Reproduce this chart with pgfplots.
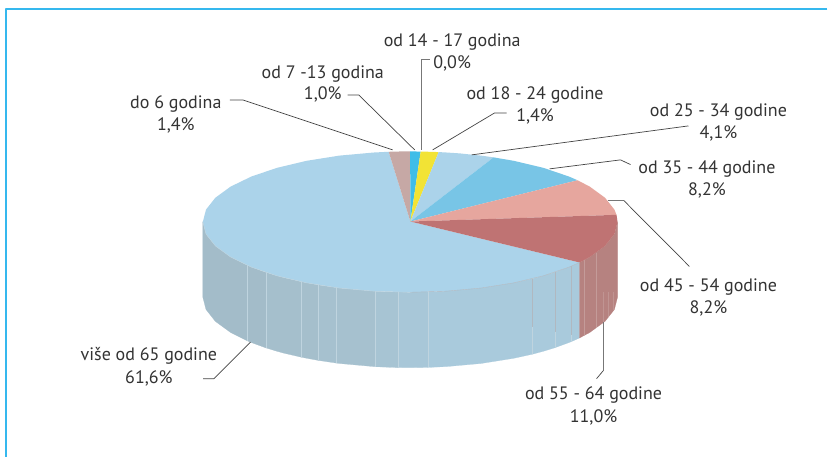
\documentclass[border=0pt]{standalone}
\usepackage{fontspec}
\setmainfont{PT Sans}
\usepackage{pgfplots}
\pgfplotsset{compat=1.18}
\definecolor{pl}{HTML}{ABD3EA}
\definecolor{ro}{HTML}{C6A8A5}
\definecolor{bl}{HTML}{3FBDE8}
\definecolor{ye}{HTML}{F2E335}
\definecolor{b2}{HTML}{78C5E6}
\definecolor{sa}{HTML}{E6A69E}
\definecolor{re}{HTML}{BF7373}
\definecolor{rw}{HTML}{B68280}
\definecolor{tx}{HTML}{333333}
\definecolor{fr}{HTML}{35B8EE}
\definecolor{wa}{HTML}{A3BCC9}
\definecolor{wb}{HTML}{A5BFCC}
\definecolor{wc}{HTML}{A6C1CF}
\definecolor{wd}{HTML}{A7C4D3}
\definecolor{we}{HTML}{A8C7D8}
\definecolor{wf}{HTML}{A9CADC}
\definecolor{wl}{HTML}{BFD4DF}
\definecolor{wg}{HTML}{B0B8C0}
\definecolor{ld}{HTML}{444444}
\definecolor{lg}{HTML}{777777}
\newcommand{\lab}[3]{\node[anchor=base,inner sep=0pt,text=tx,font=\fontsize{18}{20}\selectfont] at (axis cs:#1,#2) {#3};}
\begin{document}
\begin{tikzpicture}
\begin{axis}[hide axis,scale only axis,width=828pt,height=457pt,xmin=0,xmax=828,ymin=0,ymax=457,y dir=reverse,clip=false,
  every axis plot/.append style={line join=round}]
\addplot[draw=white,fill=white,line width=0pt] coordinates {(0,0)(828,0)(828,457)(0,457)} --cycle;
% frame
\addplot[fr,line width=1.3pt] coordinates {(828,9)(6,9)(6,457)};
% side wall strips
\addplot[fill=wa,draw=wa,line width=.2pt] coordinates {(203,222)(206.15,234.2)(215.5,246.1)(230.8,257.25)(247.3,265.5)(247.3,341)(230.8,332.75)(215.5,321.6)(206.15,309.7)(203,297.5)} --cycle;
\addplot[fill=wa,draw=wa,line width=.2pt] coordinates {(247.3,265.5)(251.5,267.3)(266.3,272.7)(266.3,348.2)(251.5,342.8)(247.3,341)} --cycle;
\addplot[fill=wb,draw=wb,line width=.2pt] coordinates {(266.3,272.7)(277.1,276)(284,277.9)(284,353.4)(277.1,351.5)(266.3,348.2)} --cycle;
\addplot[fill=wb,draw=wb,line width=.2pt] coordinates {(284,277.9)(301.7,282)(301.7,357.5)(284,353.4)} --cycle;
\addplot[fill=wb,draw=wb,line width=.2pt] coordinates {(301.7,282)(306.75,283)(318.7,285.2)(318.7,360.7)(306.75,358.5)(301.7,357.5)} --cycle;
\addplot[fill=wc,draw=wc,line width=.2pt] coordinates {(318.7,285.2)(336.3,287.8)(336.3,363.3)(318.7,360.7)} --cycle;
\addplot[fill=wc,draw=wc,line width=.2pt] coordinates {(336.3,287.8)(339.5,288.25)(375.7,291.5)(375.7,367)(339.5,363.75)(336.3,363.3)} --cycle;
\addplot[fill=wd,draw=wd,line width=.2pt] coordinates {(375.7,291.5)(398.3,292.4)(398.3,367.9)(375.7,367)} --cycle;
\addplot[fill=we,draw=we,line width=.2pt] coordinates {(398.3,292.4)(410.5,292.5)(428.3,292.2)(428.3,367.7)(410.5,368)(398.3,367.9)} --cycle;
\addplot[fill=wf,draw=wf,line width=.2pt] coordinates {(428.3,292.2)(446.5,291.4)(481.5,288.25)(514.25,283.05)(532.7,279)(532.7,354.5)(514.25,358.55)(481.5,363.75)(446.5,366.9)(428.3,367.7)} --cycle;
\addplot[fill=wf,draw=wf,line width=.2pt] coordinates {(532.7,279)(543.9,276)(555.3,272.5)(555.3,348)(543.9,351.5)(532.7,354.5)} --cycle;
\addplot[fill=wf,draw=wf,line width=.2pt] coordinates {(555.3,272.5)(569.5,267.3)(571.3,266.6)(571.3,342.1)(569.5,342.8)(555.3,348)} --cycle;
\addplot[fill=wf,draw=wf,line width=.2pt] coordinates {(571.3,266.6)(580,262.7)(580,338.2)(571.3,342.1)} --cycle;
\addplot[fill=rw,draw=rw,line width=.2pt] coordinates {(580,262.7)(590.2,257.25)(605.5,246.1)(614.9,234.2)(618,222)(618,297.5)(614.9,309.7)(605.5,321.6)(590.2,332.75)(580,338.2)} --cycle;
% wall seams
\addplot[wl,line width=.5pt] coordinates {(247.3,265.5)(247.3,341)};
\addplot[wl,line width=.5pt] coordinates {(266.3,272.7)(266.3,348.2)};
\addplot[wl,line width=.5pt] coordinates {(301.7,282)(301.7,357.5)};
\addplot[wl,line width=.5pt] coordinates {(318.7,285.2)(318.7,360.7)};
\addplot[wl,line width=.5pt] coordinates {(336.3,287.8)(336.3,363.3)};
\addplot[wl,line width=.5pt] coordinates {(375.7,291.5)(375.7,367)};
\addplot[wl,line width=.5pt] coordinates {(398.3,292.4)(398.3,367.9)};
\addplot[wl,line width=.5pt] coordinates {(428.3,292.2)(428.3,367.7)};
\addplot[wg,line width=.5pt] coordinates {(532.7,279)(532.7,327)};
\addplot[wl,line width=.5pt] coordinates {(532.7,327)(532.7,354.5)};
\addplot[wg,line width=.5pt] coordinates {(555.3,272.5)(555.3,332)};
\addplot[wl,line width=.5pt] coordinates {(555.3,332)(555.3,348)};
\addplot[wg,line width=.5pt] coordinates {(571.3,266.6)(571.3,335)};
\addplot[wl,line width=.5pt] coordinates {(571.3,335)(571.3,342.1)};
\addplot[white,line width=.5pt,opacity=.2] coordinates {(585,260)(585,335)};
\addplot[white,line width=.5pt,opacity=.2] coordinates {(596.7,253)(596.7,328)};
\addplot[white,line width=.5pt,opacity=.15] coordinates {(604,292)(604,322)};
\addplot[white,line width=.5pt,opacity=.15] coordinates {(609,292)(609,317)};
\addplot[white,line width=.5pt,opacity=.15] coordinates {(614,292)(614,310)};
% top face
\addplot[fill=pl,draw=none] coordinates {(410.7,221.7)(580,262.7)(569.5,267.3)(543.9,276)(514.25,283.05)(481.5,288.25)(446.5,291.4)(410.5,292.5)(374.5,291.4)(339.5,288.25)(306.75,283.05)(277.1,276)(251.5,267.3)(230.8,257.25)(215.5,246.1)(206.15,234.2)(203,222)(206.15,209.8)(215.5,197.9)(230.8,186.75)(251.5,176.7)(277.1,168)(306.75,160.95)(339.5,155.75)(374.5,152.6)(389,151.9)} --cycle;
\addplot[fill=ro,draw=none] coordinates {(410.7,221.7)(389,151.9)(400,151.6)(410.5,151.5)} --cycle;
\addplot[fill=bl,draw=none] coordinates {(410.7,221.7)(410.5,151.5)(421,151.7)} --cycle;
\addplot[fill=ye,draw=none] coordinates {(410.7,221.7)(421,151.7)(430,151.9)(439,152.2)} --cycle;
\addplot[fill=pl,draw=none] coordinates {(410.7,221.7)(439,152.2)(446.5,152.6)(460,153.5)(481.5,155.75)(494,157.5)} --cycle;
\addplot[fill=b2,draw=none] coordinates {(410.7,221.7)(494,157.5)(514.25,160.95)(543.9,168)(569.5,176.7)(578,180.4)} --cycle;
\addplot[fill=sa,draw=none] coordinates {(410.7,221.7)(578,180.4)(590.2,186.75)(605.5,197.9)(614.9,209.8)(617,215)} --cycle;
\addplot[fill=re,draw=none] coordinates {(410.7,221.7)(617,215)(618,222)(614.9,234.2)(605.5,246.1)(590.2,257.25)(580,262.7)} --cycle;
% rim highlights
\addplot[wl,line width=.4pt] coordinates {(203,222)(206.15,234.2)(215.5,246.1)(230.8,257.25)(251.5,267.3)(277.1,276)(306.75,283.05)(339.5,288.25)(374.5,291.4)(410.5,292.5)};
\addplot[wg,line width=.4pt] coordinates {(410.5,292.5)(446.5,291.4)(481.5,288.25)(514.25,283.05)(543.9,276)(569.5,267.3)(580,262.7)};
% leader lines
\addplot[ld,line width=.7pt] coordinates {(230,100)(243,100)(393,150)};
\addplot[ld,line width=.7pt] coordinates {(348,95)(359,95)(415,150)};
\addplot[lg,line width=1pt] coordinates {(430,60)(421.7,60)(421.7,150)};
\addplot[ld,line width=.7pt] coordinates {(507,113)(495,113)(433,150)};
\addplot[ld,line width=.7pt] coordinates {(472,155)(689,126)};
\addplot[ld,line width=.7pt] coordinates {(550,169)(621,160)(631,164.7)};
\addplot[lg,line width=1pt] coordinates {(608,200.7)(624.3,200.7)};
\addplot[ld,line width=.7pt] coordinates {(624.3,200.7)(690,266.7)};
\addplot[lg,line width=1.2pt] coordinates {(603.7,322)(603.7,371)};
\addplot[ld,line width=.7pt] coordinates {(603.7,371)(597,379)};
\addplot[ld,line width=.7pt] coordinates {(250.7,342.3)(214,379)(203.3,379)};
% labels
\lab{452.5}{46.7}{od 14 - 17 godina}
\lab{452.5}{69}{0,0\%}
\lab{323}{78.3}{od 7 -13 godina}
\lab{323}{100}{1,0\%}
\lab{535.5}{99.5}{od 18 - 24 godine}
\lab{535.5}{121.5}{1,4\%}
\lab{719}{116.7}{od 25 - 34 godine}
\lab{719}{139}{4,1\%}
\lab{707.5}{173.3}{od 35 - 44 godine}
\lab{707.5}{195.7}{8,2\%}
\lab{709}{291.7}{od 45 - 54 godine}
\lab{709}{314}{8,2\%}
\lab{594}{400}{od 55 - 64 godine}
\lab{594}{423}{11,0\%}
\lab{149}{361}{više od 65 godine}
\lab{149}{384}{61,6\%}
\lab{176}{109}{do 6 godina}
\lab{176}{131}{1,4\%}
\end{axis}
\end{tikzpicture}
\end{document}
